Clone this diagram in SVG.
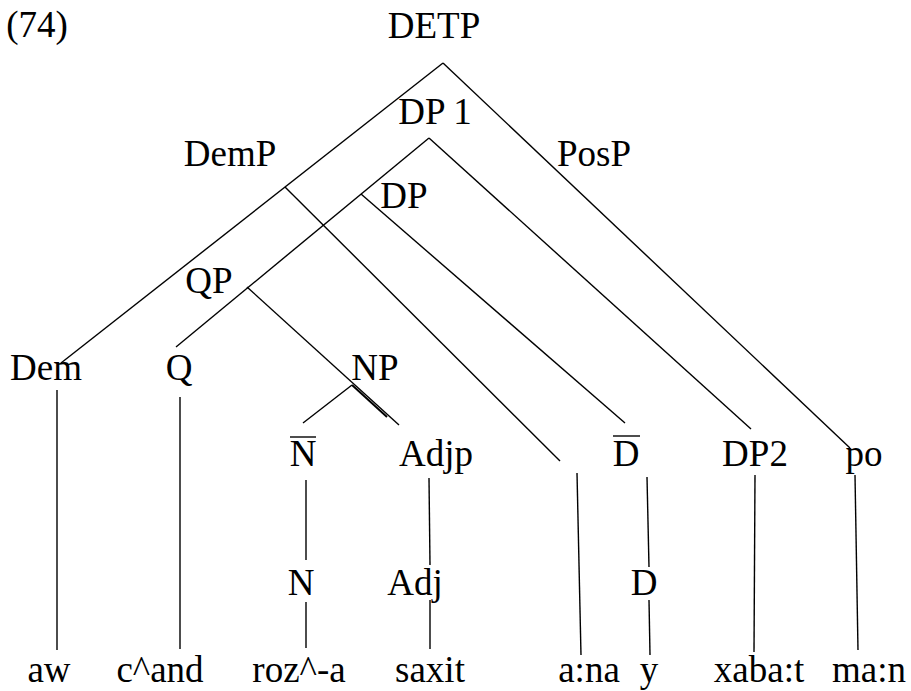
<svg xmlns="http://www.w3.org/2000/svg" width="911" height="691" viewBox="0 0 911 691">
<style>
text{font-family:'Liberation Serif','Times New Roman',serif;font-size:37px;fill:#000;text-anchor:middle}
.e{stroke:#000;stroke-width:1.4;fill:none}
</style>
<rect width="911" height="691" fill="#fff"/>
<g id="connectors" class="e">
<line x1="443" y1="63" x2="61" y2="363"/>
<line x1="443" y1="63" x2="850" y2="448"/>
<line x1="285" y1="187" x2="560" y2="461"/>
<line x1="429" y1="138" x2="176" y2="347"/>
<line x1="429" y1="138" x2="751" y2="429"/>
<line x1="361" y1="194" x2="625" y2="423"/>
<line x1="247" y1="287" x2="399" y2="425"/>
<line x1="352" y1="385" x2="303" y2="423"/>
<line x1="352" y1="385" x2="387" y2="417" stroke-width="2"/>
<line x1="57" y1="390" x2="57" y2="650"/>
<line x1="180" y1="397" x2="180" y2="649"/>
<line x1="306" y1="480" x2="306" y2="560"/>
<line x1="306" y1="602" x2="306" y2="648"/>
<line x1="429" y1="478" x2="430" y2="565"/>
<line x1="430" y1="600" x2="430" y2="649"/>
<line x1="577" y1="473" x2="581" y2="655"/>
<line x1="647" y1="477" x2="649" y2="567"/>
<line x1="649" y1="600" x2="650" y2="655"/>
<line x1="755" y1="475" x2="754" y2="652"/>
<line x1="855" y1="475" x2="858" y2="650"/>
</g>
<g id="label74"><text x="37" y="37">(74)</text></g>
<g id="DETP"><text x="434" y="38">DETP</text></g>
<g id="DP1"><text x="435" y="124">DP 1</text></g>
<g id="DemP"><text x="230" y="166">DemP</text></g>
<g id="PosP"><text x="594" y="166">PosP</text></g>
<g id="DP"><text x="404" y="208">DP</text></g>
<g id="QP"><text x="209" y="293">QP</text></g>
<g id="Dem"><text x="46" y="380">Dem</text></g>
<g id="Q"><text x="179" y="380">Q</text></g>
<g id="NP"><text x="375" y="380">NP</text></g>
<g id="Nbar"><text x="303" y="466">N</text><line class="e" x1="290" y1="437" x2="316" y2="437" stroke-width="2"/></g>
<g id="Adjp"><text x="436" y="466">Adjp</text></g>
<g id="Dbar"><text x="626" y="466">D</text><line class="e" x1="613" y1="436" x2="640" y2="436" stroke-width="2"/></g>
<g id="DP2"><text x="755" y="466">DP2</text></g>
<g id="po"><text x="864" y="466">po</text></g>
<g id="N"><text x="301" y="595">N</text></g>
<g id="Adj"><text x="415" y="595">Adj</text></g>
<g id="D"><text x="644" y="595">D</text></g>
<g id="aw"><text x="49" y="682">aw</text></g>
<g id="cand"><text x="160" y="682">c^and</text></g>
<g id="roza"><text x="299" y="682">roz^-a</text></g>
<g id="saxit"><text x="430" y="682">saxit</text></g>
<g id="ana"><text x="589" y="682">a:na</text></g>
<g id="y"><text x="649" y="682">y</text></g>
<g id="xabat"><text x="759" y="682">xaba:t</text></g>
<g id="man"><text x="869" y="682">ma:n</text></g>
</svg>
